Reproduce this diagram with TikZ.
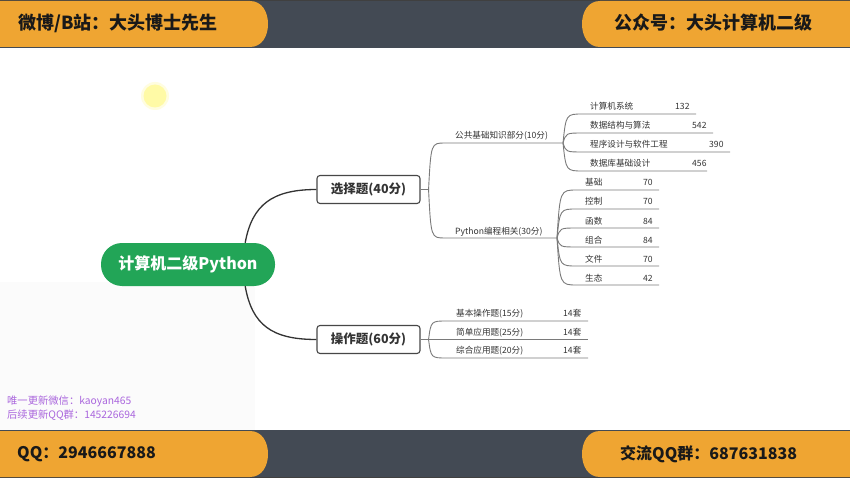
\documentclass[tikz,border=0pt]{standalone}
\usepackage{fontspec}
\setmainfont{Noto Sans CJK SC}
\usetikzlibrary{calc}
\definecolor{bar}{HTML}{434A54}
\definecolor{org}{HTML}{EFA532}
\definecolor{grn}{HTML}{22A557}
\definecolor{pur}{HTML}{AA66DD}
\definecolor{ink}{HTML}{333333}
\definecolor{lin}{HTML}{7A7A7A}
\begin{document}
\begin{tikzpicture}[x=1pt,y=-1pt,
  bartext/.style={font=\fontsize{18}{18}\selectfont\bfseries, text=black!90, inner sep=0},
  bartextb/.style={font=\fontsize{16}{16}\selectfont\bfseries, text=black!90, inner sep=0},
  topic/.style={draw=ink!90, line width=1.1pt, rounded corners=3pt, fill=white, minimum width=103pt, minimum height=28pt, font=\fontsize{12.5}{13}\selectfont\bfseries, text=ink, inner sep=0},
  lbl/.style={font=\fontsize{8.6}{9}\selectfont, text=ink, anchor=base west, inner sep=0},
  note/.style={font=\fontsize{10.3}{11}\selectfont, text=pur, anchor=west, inner sep=0},
  mainedge/.style={draw=ink, line width=1.3pt},
  subedge/.style={draw=lin, line width=0.9pt},
]
\useasboundingbox (0,0) rectangle (850,478);
\clip (0,0) rectangle (850,478);
\fill[white] (0,0) rectangle (850,478);
\fill[black!1.5] (0,282) rectangle (255,430);
\fill[yellow!12] (155,96) circle (14);
\fill[yellow!35] (155,96) circle (11.5);
% top bar
\fill[bar] (0,0) rectangle (850,48);
\fill[black!75] (0,0) rectangle (850,1);
\fill[org] (0,1) -- (250,1) .. controls (262,1) and (268,12) .. (268,24) .. controls (268,36) and (262,47) .. (250,47) -- (0,47) -- cycle;
\fill[org] (850,1) -- (600,1) .. controls (588,1) and (582,12) .. (582,24) .. controls (582,36) and (588,47) .. (600,47) -- (850,47) -- cycle;
% bottom bar
\fill[bar] (0,430) rectangle (850,478);
\fill[black!75] (0,477) rectangle (850,478);
\fill[org] (0,431) -- (250,431) .. controls (262,431) and (268,442) .. (268,454) .. controls (268,466) and (262,477) .. (250,477) -- (0,477) -- cycle;
\fill[org] (850,431) -- (600,431) .. controls (588,431) and (582,442) .. (582,454) .. controls (582,466) and (588,477) .. (600,477) -- (850,477) -- cycle;
\node[bartext, anchor=west] (t1) at (18,23) {微博/B站：大头博士先生};
\node[bartext, anchor=east] (t2) at (813,23) {公众号：大头计算机二级};
\node[bartextb, anchor=west] (t3) at (17,454) {QQ：2946667888};
\node[bartextb, anchor=west] (t4) at (620,454) {交流QQ群：687631838};
% notes
\node[note] (n1) at (7,401) {唯一更新微信：kaoyan465};
\node[note] (n2) at (7,415) {后续更新QQ群：145226694};
% root and topics
\node[fill=grn, rounded corners=21pt, minimum width=174pt, minimum height=43pt, text=white, font=\fontsize{16}{16}\selectfont\bfseries, inner sep=0] (root) at (188,264.5) {计算机二级Python};
\node[topic] (choice) at (368.5,189.5) {选择题(40分)};
\node[topic] (op) at (368.5,339.5) {操作题(60分)};
\draw[mainedge] ($(root.north east)+(-30,0)$) .. controls (252,205) and (272,189.5) .. (choice.west);
\draw[mainedge] ($(root.south east)+(-30,0)$) .. controls (252,325) and (272,339.5) .. (op.west);
% choice branch
\coordinate (cf) at ($(choice.east)+(8,0)$);
\draw[subedge] (choice.east) -- (cf);
\coordinate (gA) at (445,143);
\coordinate (gB) at (563,143);
\coordinate (pA) at (445,238);
\coordinate (pB) at (557,238);
\draw[subedge] (cf) .. controls (431,143) .. (gA) -- (gB);
\draw[subedge] (cf) .. controls (431,238) .. (pA) -- (pB);
\node[lbl] (g) at (455,139) {公共基础知识部分(10分)};
\node[lbl] (p) at (455,234) {Python编程相关(30分)};
\foreach \y/\t/\n/\nx/\e [count=\i] in {114/计算机系统/132/675/696, 133/数据结构与算法/542/692/713, 152/程序设计与软件工程/390/709/730, 171/数据库基础设计/456/692/707}{
  \coordinate (gi\i) at (583,\y);
  \coordinate (ge\i) at (\e,\y);
  \draw[subedge] (gB) .. controls (566,\y) .. (gi\i) -- (ge\i);
  \node[lbl] (gl\i) at (590,\y-4) {\t};
  \node[lbl] (gn\i) at (\nx,\y-4) {\n};
}
\foreach \y/\t/\n [count=\i] in {190/基础/70, 209/控制/70, 228/函数/84, 247/组合/84, 266/文件/70, 285/生态/42}{
  \coordinate (pi\i) at (577,\y);
  \coordinate (pe\i) at (659,\y);
  \draw[subedge] (pB) .. controls (560,\y) .. (pi\i) -- (pe\i);
  \node[lbl] (pl\i) at (585,\y-4) {\t};
  \node[lbl] (pn\i) at (643,\y-4) {\n};
}
% operation branch
\coordinate (of) at ($(op.east)+(8,0)$);
\draw[subedge] (op.east) -- (of);
\foreach \y/\t [count=\i] in {321/基本操作题(15分), 339.5/简单应用题(25分), 358/综合应用题(20分)}{
  \coordinate (oi\i) at (447,\y);
  \coordinate (oe\i) at (588,\y);
  \draw[subedge] (of) .. controls (431,\y) .. (oi\i) -- (oe\i);
  \node[lbl] (ol\i) at (456,\y-4.5) {\t};
  \node[lbl] (on\i) at (563,\y-4.5) {14套};
}
\end{tikzpicture}
\end{document}
